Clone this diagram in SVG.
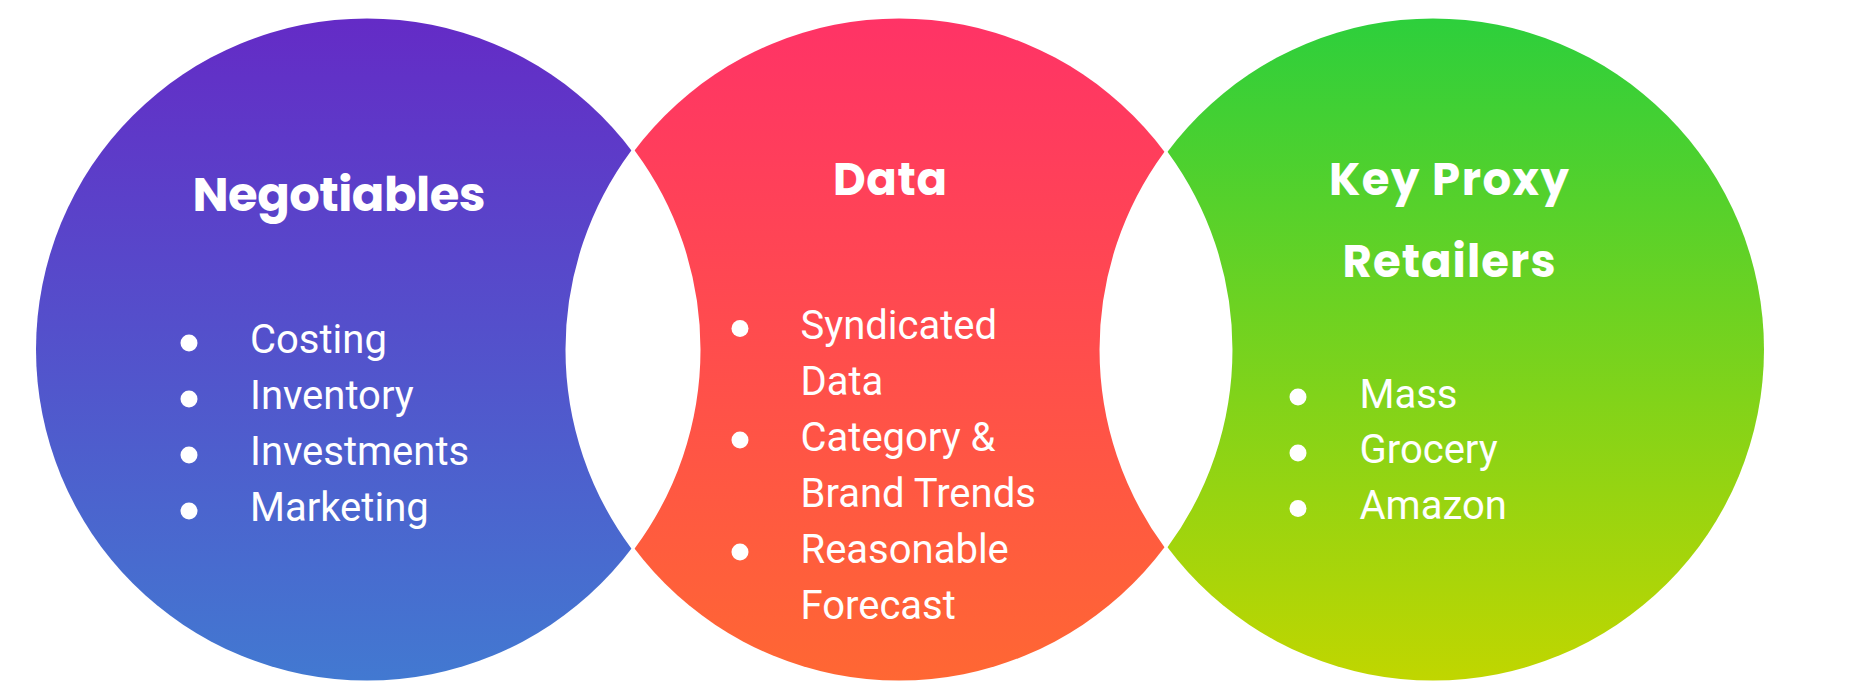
<svg xmlns="http://www.w3.org/2000/svg" width="1859" height="694" viewBox="0 0 1859 694">
  <defs>
    <linearGradient id="gPurple" x1="0" y1="0" x2="0" y2="1">
      <stop offset="0" stop-color="#642BC6"/>
      <stop offset="1" stop-color="#4279D1"/>
    </linearGradient>
    <linearGradient id="gRed" x1="0" y1="0" x2="0" y2="1">
      <stop offset="0" stop-color="#FF3366"/>
      <stop offset="1" stop-color="#FF6733"/>
    </linearGradient>
    <linearGradient id="gGreen" x1="0" y1="0" x2="0" y2="1">
      <stop offset="0" stop-color="#2DCF3C"/>
      <stop offset="1" stop-color="#C0D600"/>
    </linearGradient>
  </defs>
  <style>
    .title { font-family: Poppins, "Open Sans", "Liberation Sans", sans-serif; font-weight: 700; fill: #ffffff; text-anchor: middle; }
    .item { font-family: Roboto, "Liberation Sans", sans-serif; font-size: 40px; fill: #ffffff; }
    .bullet { fill: #ffffff; }
    .lens { fill: #ffffff; stroke: #ffffff; stroke-width: 5; }
  </style>
  <rect width="1859" height="694" fill="#ffffff"/>

  <g id="negotiables">
    <circle cx="367" cy="349.5" r="331" fill="url(#gPurple)"/>
  </g>
  <g id="data">
    <circle cx="899" cy="349.5" r="331" fill="url(#gRed)"/>
  </g>
  <g id="key-proxy-retailers">
    <circle cx="1433" cy="349.5" r="331" fill="url(#gGreen)"/>
  </g>

  <g id="overlaps">
    <path class="lens" d="M 633 152.5 A 331 331 0 0 1 633 546.5 A 331 331 0 0 1 633 152.5 Z"/>
    <path class="lens" d="M 1166 153.9 A 331 331 0 0 1 1166 545.1 A 331 331 0 0 1 1166 153.9 Z"/>
  </g>

  <g id="negotiables-text">
    <text class="title" x="339" y="211" font-size="48" textLength="293">Negotiables</text>
    <circle class="bullet" cx="189" cy="343" r="8.5"/>
    <circle class="bullet" cx="189" cy="399" r="8.5"/>
    <circle class="bullet" cx="189" cy="455" r="8.5"/>
    <circle class="bullet" cx="189" cy="511" r="8.5"/>
    <text class="item" x="250" y="353">Costing</text>
    <text class="item" x="250" y="409">Inventory</text>
    <text class="item" x="250" y="465">Investments</text>
    <text class="item" x="250" y="521">Marketing</text>
  </g>

  <g id="data-text">
    <text class="title" x="890" y="195" font-size="45" textLength="114">Data</text>
    <circle class="bullet" cx="740" cy="328.5" r="8.5"/>
    <circle class="bullet" cx="740" cy="440" r="8.5"/>
    <circle class="bullet" cx="740" cy="552" r="8.5"/>
    <text class="item" x="800.5" y="339">Syndicated</text>
    <text class="item" x="800.5" y="395">Data</text>
    <text class="item" x="800.5" y="451">Category &amp;</text>
    <text class="item" x="800.5" y="507">Brand Trends</text>
    <text class="item" x="800.5" y="563">Reasonable</text>
    <text class="item" x="800.5" y="619">Forecast</text>
  </g>

  <g id="key-proxy-retailers-text">
    <text class="title" x="1449" y="195" font-size="45" textLength="240">Key Proxy</text>
    <text class="title" x="1449" y="277" font-size="45" textLength="213">Retailers</text>
    <circle class="bullet" cx="1298" cy="397" r="8.5"/>
    <circle class="bullet" cx="1298" cy="453" r="8.5"/>
    <circle class="bullet" cx="1298" cy="508.5" r="8.5"/>
    <text class="item" x="1359.5" y="408">Mass</text>
    <text class="item" x="1359.5" y="463">Grocery</text>
    <text class="item" x="1359.5" y="519">Amazon</text>
  </g>
</svg>
